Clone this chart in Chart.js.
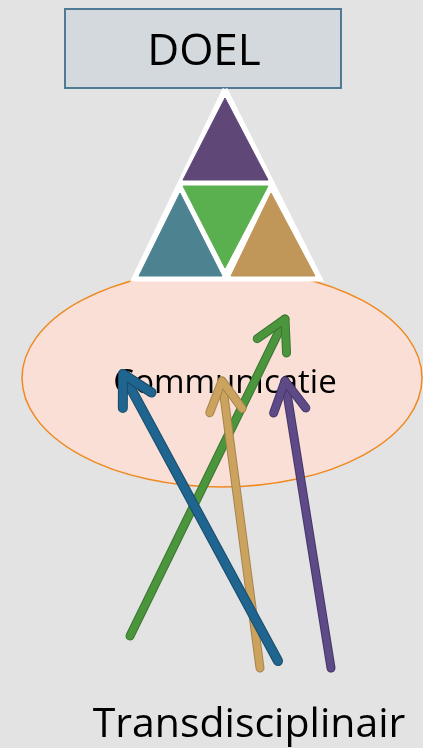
<!DOCTYPE html>
<html>
<head>
<meta charset="utf-8">
<script src="https://cdn.jsdelivr.net/npm/chart.js@4/dist/chart.umd.min.js"></script>
<style>
html, body { margin: 0; padding: 0; background: #e3e3e3; }
#wrap { width: 423px; height: 748px; }
</style>
</head>
<body>
<div id="wrap"><canvas id="chart"></canvas></div>
<script>
// diagram coordinates in data units (x to the right, y downwards)
const goalLabel = 'DOEL';
const commLabel = 'Communicatie';
const baseLabel = 'Transdisciplinair';

const goalBox = [65, 9, 341, 88];          // x0, y0, x1, y1
const commEllipse = [222, 378, 200, 109];  // cx, cy, rx, ry

const outerTri = [[225, 89], [134, 279], [320, 279]];
const purpleTri = [[225, 98], [183, 180], [268, 180]];
const greenTri = [[183, 186], [268, 186], [225, 268]];
const tealTri = [[180, 193], [139, 276], [222, 276]];
const tanTri = [[271, 193], [231, 276], [315, 276]];

// arrows: tail -> tip
const greenArrow = [[130, 636], [285, 319]];
const tanArrow = [[260, 668], [222, 381]];
const purpleArrow = [[331, 668], [285, 381]];
const blueArrow = [[278, 661], [123, 374]];

const toPts = arr => arr.map(p => ({ x: p[0], y: p[1] }));
const closed = arr => toPts(arr.concat([arr[0]]));

const triangles = [
    { pts: purpleTri, color: '#5f4778' },
    { pts: greenTri, color: '#5ab04e' },
    { pts: tealTri, color: '#4d8391' },
    { pts: tanTri, color: '#c09659' },
];

// drawn top to bottom: first entry ends up on top
const arrows = [
    { pts: blueArrow, color: '#1f6590', edge: '#184c6b', width: 8 },
    { pts: purpleArrow, color: '#5d4a87', edge: '#45366a', width: 7 },
    { pts: tanArrow, color: '#cba35e', edge: '#a4844b', width: 7 },
    { pts: greenArrow, color: '#4b963d', edge: '#3a7530', width: 7 },
];

const datasets = [];
let ord = 0;
arrows.forEach(a => {
    datasets.push({
        data: toPts(a.pts), showLine: true, borderColor: a.color,
        borderWidth: a.width, borderCapStyle: 'round', pointRadius: 0, order: ord++
    });
    datasets.push({
        data: toPts(a.pts), showLine: true, borderColor: a.edge,
        borderWidth: a.width + 2, borderCapStyle: 'round', pointRadius: 0, order: ord++
    });
});
triangles.forEach(t => {
    datasets.push({
        data: closed(t.pts), showLine: true, fill: 'shape', backgroundColor: t.color,
        borderColor: t.color, borderWidth: 1, pointRadius: 0, tension: 0, order: ord++
    });
});
datasets.push({
    data: closed(outerTri), showLine: true, fill: 'shape', backgroundColor: '#ffffff',
    borderColor: '#ffffff', borderWidth: 5, borderJoinStyle: 'miter', pointRadius: 0,
    tension: 0, order: ord++
});

const diagramPlugin = {
    id: 'diagram',
    beforeDraw(chart) {
        const ctx = chart.ctx;
        ctx.save();
        ctx.fillStyle = '#e3e3e3';
        ctx.fillRect(0, 0, chart.width, chart.height);
        ctx.restore();
    },
    beforeDatasetsDraw(chart) {
        const ctx = chart.ctx;
        const xs = chart.scales.x, ys = chart.scales.y;
        ctx.save();

        // goal box
        const bx0 = xs.getPixelForValue(goalBox[0]), by0 = ys.getPixelForValue(goalBox[1]);
        const bx1 = xs.getPixelForValue(goalBox[2]), by1 = ys.getPixelForValue(goalBox[3]);
        ctx.fillStyle = '#d4d9de';
        ctx.strokeStyle = '#4f7995';
        ctx.lineWidth = 2;
        ctx.fillRect(bx0, by0, bx1 - bx0, by1 - by0);
        ctx.strokeRect(bx0, by0, bx1 - bx0, by1 - by0);
        ctx.fillStyle = '#000';
        ctx.font = '44px "Open Sans"';
        ctx.textAlign = 'center';
        ctx.textBaseline = 'alphabetic';
        ctx.fillText(goalLabel, xs.getPixelForValue(204), ys.getPixelForValue(65));

        // communication ellipse
        const cx = xs.getPixelForValue(commEllipse[0]), cy = ys.getPixelForValue(commEllipse[1]);
        const rx = xs.getPixelForValue(commEllipse[0] + commEllipse[2]) - cx;
        const ry = ys.getPixelForValue(commEllipse[1] + commEllipse[3]) - cy;
        ctx.beginPath();
        ctx.ellipse(cx, cy, rx, ry, 0, 0, Math.PI * 2);
        ctx.fillStyle = '#f9dfd6';
        ctx.fill();
        ctx.strokeStyle = '#ef8a22';
        ctx.lineWidth = 1.5;
        ctx.stroke();

        ctx.fillStyle = '#000';
        ctx.font = '33px "Open Sans"';
        ctx.fillText(commLabel, xs.getPixelForValue(225), ys.getPixelForValue(393));

        ctx.font = '41px "Open Sans"';
        ctx.fillText(baseLabel, xs.getPixelForValue(249), ys.getPixelForValue(737));
        ctx.restore();
    },
    afterDatasetsDraw(chart) {
        const ctx = chart.ctx;
        const xs = chart.scales.x, ys = chart.scales.y;
        ctx.save();
        ctx.lineCap = 'round';
        ctx.lineJoin = 'round';
        arrows.slice().reverse().forEach(a => {
            const tx = xs.getPixelForValue(a.pts[0][0]), ty = ys.getPixelForValue(a.pts[0][1]);
            const hx = xs.getPixelForValue(a.pts[1][0]), hy = ys.getPixelForValue(a.pts[1][1]);
            const ang = Math.atan2(ty - hy, tx - hx);
            const len = 34, spread = 0.5;
            const head = () => {
                ctx.beginPath();
                ctx.moveTo(hx + len * Math.cos(ang - spread), hy + len * Math.sin(ang - spread));
                ctx.lineTo(hx, hy);
                ctx.lineTo(hx + len * Math.cos(ang + spread), hy + len * Math.sin(ang + spread));
                ctx.stroke();
            };
            ctx.strokeStyle = a.edge;
            ctx.lineWidth = a.width + 2;
            head();
            ctx.strokeStyle = a.color;
            ctx.lineWidth = a.width;
            head();
        });
        ctx.restore();
    }
};

new Chart(document.getElementById('chart'), {
    type: 'scatter',
    data: { datasets: datasets },
    options: {
        responsive: true,
        maintainAspectRatio: false,
        animation: false,
        layout: { padding: 0 },
        plugins: { legend: { display: false }, tooltip: { enabled: false } },
        scales: {
            x: { type: 'linear', min: 0, max: 423, display: false },
            y: { type: 'linear', min: 0, max: 748, reverse: true, display: false }
        }
    },
    plugins: [diagramPlugin]
});
</script>
</body>
</html>
